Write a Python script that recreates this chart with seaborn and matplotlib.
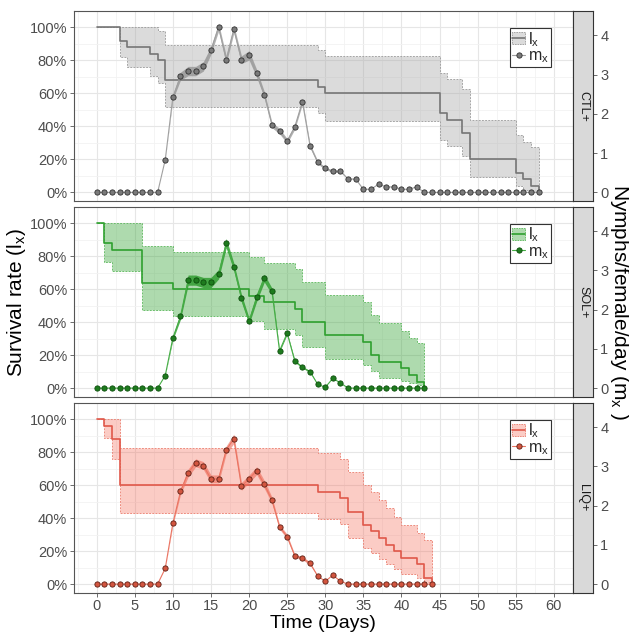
import matplotlib
matplotlib.use("Agg")
import matplotlib.pyplot as plt
import seaborn as sns
import pandas as pd
from matplotlib.patches import Patch
from matplotlib.lines import Line2D
from matplotlib.colors import to_rgba
from matplotlib.ticker import MultipleLocator, PercentFormatter

# ---------------- data ----------------
# survival (l_x) step functions: day of change, value, CI upper, CI lower
lx_days_ctl = [0, 3, 4, 7, 8, 9, 29, 30, 45, 46, 48, 49, 55, 56, 57, 58]
lx_ctl = [1.00, 0.92, 0.88, 0.84, 0.80, 0.68, 0.64, 0.60, 0.48, 0.44, 0.36, 0.20, 0.12, 0.08, 0.04, 0.00]
lx_up_ctl = [1.00, 1.00, 1.00, 1.00, 0.976, 0.895, 0.864, 0.828, 0.722, 0.690, 0.625, 0.442, 0.351, 0.304, 0.276, 0.276]
lx_lo_ctl = [1.00, 0.824, 0.763, 0.706, 0.665, 0.519, 0.479, 0.436, 0.320, 0.284, 0.219, 0.091, 0.040, 0.012, 0.000, 0.000]

lx_days_sol = [0, 1, 2, 6, 10, 20, 22, 26, 27, 30, 35, 36, 37, 40, 41, 42, 43]
lx_sol = [1.00, 0.88, 0.84, 0.64, 0.60, 0.56, 0.52, 0.48, 0.40, 0.32, 0.28, 0.20, 0.16, 0.12, 0.08, 0.04, 0.00]
lx_up_sol = [1.00, 1.00, 1.00, 0.859, 0.823, 0.792, 0.758, 0.722, 0.643, 0.567, 0.522, 0.442, 0.395, 0.349, 0.304, 0.274, 0.274]
lx_lo_sol = [1.00, 0.762, 0.708, 0.476, 0.435, 0.405, 0.361, 0.320, 0.250, 0.179, 0.143, 0.103, 0.063, 0.046, 0.032, 0.020, 0.000]

lx_days_liq = [0, 1, 2, 3, 29, 32, 33, 35, 36, 37, 38, 39, 40, 42, 43, 44]
lx_liq = [1.00, 0.96, 0.88, 0.60, 0.56, 0.52, 0.44, 0.36, 0.32, 0.28, 0.24, 0.20, 0.16, 0.12, 0.04, 0.00]
lx_up_liq = [1.00, 1.00, 1.00, 0.826, 0.795, 0.760, 0.680, 0.600, 0.560, 0.510, 0.460, 0.410, 0.360, 0.310, 0.270, 0.270]
lx_lo_liq = [1.00, 0.888, 0.760, 0.432, 0.396, 0.365, 0.280, 0.220, 0.190, 0.155, 0.120, 0.090, 0.060, 0.040, 0.010, 0.000]

# fecundity (m_x): daily values and ribbon half-width
mx_days_ctl = list(range(0, 59))
mx_ctl = [0, 0, 0, 0, 0, 0, 0, 0, 0, 0.83, 2.43, 2.96, 3.09, 3.09, 3.21, 3.62, 4.21, 3.38, 4.16, 3.38,
          3.49, 3.03, 2.49, 1.72, 1.56, 1.31, 1.67, 2.31, 1.19, 0.77, 0.61, 0.54, 0.54, 0.34, 0.34, 0.08,
          0.08, 0.21, 0.14, 0.14, 0.08, 0.08, 0.14, 0, 0, 0, 0, 0, 0, 0, 0, 0, 0, 0, 0, 0, 0, 0, 0]
mx_se_ctl = [0, 0, 0, 0, 0, 0, 0, 0, 0, 0, 0.06, 0.10, 0.12, 0.12, 0.12, 0.10, 0.10, 0.10, 0.10, 0.10,
             0.12, 0.10, 0.08, 0.07, 0.07, 0.06, 0.06, 0.06, 0.05, 0.04, 0.03, 0.03, 0.03, 0, 0, 0,
             0, 0, 0, 0, 0, 0, 0, 0, 0, 0, 0, 0, 0, 0, 0, 0, 0, 0, 0, 0, 0, 0, 0]

mx_days_sol = list(range(0, 44))
mx_sol = [0, 0, 0, 0, 0, 0, 0, 0, 0, 0.32, 1.28, 1.83, 2.75, 2.75, 2.69, 2.69, 2.90, 3.69, 3.09, 2.29,
          1.71, 2.31, 2.80, 2.47, 0.95, 1.40, 0.69, 0.53, 0.42, 0.10, 0.02, 0.25, 0.13, 0, 0, 0, 0, 0,
          0, 0, 0, 0, 0, 0]
mx_se_sol = [0, 0, 0, 0, 0, 0, 0, 0, 0, 0, 0.05, 0.08, 0.13, 0.13, 0.13, 0.13, 0.12, 0.12, 0.10, 0.10,
             0.08, 0.10, 0.10, 0.08, 0.03, 0.03, 0.03, 0.02, 0.02, 0, 0, 0, 0, 0, 0, 0, 0, 0,
             0, 0, 0, 0, 0, 0]

mx_days_liq = list(range(0, 45))
mx_liq = [0, 0, 0, 0, 0, 0, 0, 0, 0, 0.40, 1.55, 2.36, 2.83, 3.09, 3.02, 2.68, 2.68, 3.42, 3.70, 2.49,
          2.68, 2.89, 2.54, 2.14, 1.46, 1.21, 0.72, 0.66, 0.53, 0.21, 0.07, 0.23, 0.07, 0, 0, 0, 0, 0,
          0, 0, 0, 0, 0, 0, 0]
mx_se_liq = [0, 0, 0, 0, 0, 0, 0, 0, 0, 0, 0.05, 0.08, 0.10, 0.10, 0.10, 0.10, 0.10, 0.10, 0.12, 0.10,
             0.10, 0.10, 0.10, 0.08, 0.06, 0.06, 0.04, 0.04, 0.04, 0, 0, 0, 0, 0, 0, 0, 0, 0,
             0, 0, 0, 0, 0, 0, 0]

treatments = ["CTL+", "SOL+", "LIQ+"]
x_ticks = [0, 5, 10, 15, 20, 25, 30, 35, 40, 45, 50, 55, 60]
y_ticks = [0, 0.2, 0.4, 0.6, 0.8, 1.0]
mx_ticks = [0, 1, 2, 3, 4]

# ---------------- style ----------------
sns.set_theme(style="white")
plt.rcParams["font.family"] = ["Liberation Sans", "DejaVu Sans"]
plt.rcParams["mathtext.default"] = "regular"

styles = {
    "CTL+": dict(line="#767676", fill=to_rgba("#A6A6A6", 0.40), dash="#9A9A9A",
                 mline="#A0A0A0", mface="#7A7A7A", medge="#303030", rib=to_rgba("#7F7F7F", 0.6)),
    "SOL+": dict(line="#2FA02F", fill=to_rgba("#2CA02C", 0.38), dash="#5CB85C",
                 mline="#45AD45", mface="#1E7B1E", medge="#0B4D0B", rib=to_rgba("#2A9A2A", 0.8)),
    "LIQ+": dict(line="#E0584A", fill=to_rgba("#F56450", 0.33), dash="#EB7D6E",
                 mline="#EA7462", mface="#D2553F", medge="#5C1F14", rib=to_rgba("#EE6A58", 0.6)),
}

data = {
    "CTL+": (lx_days_ctl, lx_ctl, lx_up_ctl, lx_lo_ctl, mx_days_ctl, mx_ctl, mx_se_ctl),
    "SOL+": (lx_days_sol, lx_sol, lx_up_sol, lx_lo_sol, mx_days_sol, mx_sol, mx_se_sol),
    "LIQ+": (lx_days_liq, lx_liq, lx_up_liq, lx_lo_liq, mx_days_liq, mx_liq, mx_se_liq),
}

W, H = 629, 632
fig = plt.figure(figsize=(W / 100, H / 100), dpi=100)
fig.patch.set_facecolor("white")

tops = [11, 206.7, 402.7]
ph = 190.0
left, right = 74.0, 572.7
strip_w = 20.5
K = 4.2
ylim = (-0.052, 1.10)
xlim = (-2.975, 62.475)
border = "#555555"
tickc = "#4D4D4D"

for i, trt in enumerate(treatments):
    st = styles[trt]
    ld, lv, lu, ll, md, mv, mse = data[trt]
    bottom = 1 - (tops[i] + ph) / H
    ax = fig.add_axes([left / W, bottom, (right - left) / W, ph / H])
    ax.set_xlim(*xlim)
    ax.set_ylim(*ylim)
    ax.set_xticks(x_ticks)
    ax.xaxis.set_minor_locator(MultipleLocator(2.5))
    ax.set_yticks(y_ticks)
    ax.yaxis.set_minor_locator(MultipleLocator(0.1))
    ax.yaxis.set_major_formatter(PercentFormatter(xmax=1, decimals=0))
    ax.grid(which="major", color="#E6E6E6", lw=0.8)
    ax.grid(which="minor", color="#F2F2F2", lw=0.6)
    ax.set_axisbelow(True)
    for s in ax.spines.values():
        s.set_color(border)
        s.set_linewidth(0.8)
    ax.tick_params(axis="y", which="major", left=True, length=3, width=0.6, color=border,
                   labelsize=10.5, labelcolor=tickc, pad=2)
    ax.tick_params(which="minor", length=0)
    if i == 2:
        ax.tick_params(axis="x", which="major", bottom=True, length=3, width=0.6, color=border,
                       labelsize=10.5, labelcolor=tickc, pad=1.5)
    else:
        ax.tick_params(axis="x", which="major", bottom=False, labelbottom=False)

    # survival band and step line
    ax.fill_between(ld, ll, lu, step="post", facecolor=st["fill"], edgecolor=st["dash"],
                    linestyle=(0, (2.2, 1.6)), linewidth=0.6, zorder=2)
    df_lx = pd.DataFrame({"day": ld, "lx": lv})
    sns.lineplot(data=df_lx, x="day", y="lx", ax=ax, color=st["line"], lw=1.2,
                 drawstyle="steps-post", estimator=None, zorder=3)
    ax.set_xlabel("")
    ax.set_ylabel("")

    # fecundity on secondary axis
    ax2 = ax.twinx()
    ax2.set_ylim(ylim[0] * K, ylim[1] * K)
    ax2.set_yticks(mx_ticks)
    for s in ax2.spines.values():
        s.set_visible(False)
    ax2.spines["right"].set_position(("outward", strip_w * 72 / 100))
    ax2.tick_params(axis="y", right=True, length=3, width=0.6, color=border,
                    labelsize=10.5, labelcolor=tickc, pad=2)
    lo = [m - s for m, s in zip(mv, mse)]
    hi = [m + s for m, s in zip(mv, mse)]
    ax2.fill_between(md, lo, hi, color=st["rib"], lw=0, zorder=2)
    df_mx = pd.DataFrame({"day": md, "mx": mv})
    sns.lineplot(data=df_mx, x="day", y="mx", ax=ax2, color=st["mline"], lw=0.8,
                 marker="o", markersize=3.8, markerfacecolor=st["mface"],
                 markeredgecolor=st["medge"], markeredgewidth=0.6, estimator=None, zorder=3)
    ax2.set_xlabel("")
    ax2.set_ylabel("")
    ax2.set_xlim(*xlim)

    # legend
    h_lx = (Patch(facecolor=st["fill"], edgecolor=st["dash"], linestyle=(0, (2, 1)), lw=0.6),
            Line2D([], [], color=st["line"], lw=1.2))
    h_mx = Line2D([], [], color=st["mline"], lw=0.8, marker="o", markersize=3.8,
                  markerfacecolor=st["mface"], markeredgecolor=st["medge"], markeredgewidth=0.6)
    leg = ax2.legend([h_lx, h_mx], ["l$_\\mathregular{x}$", "m$_\\mathregular{x}$"],
                     loc="upper right", bbox_to_anchor=((551 - left) / (right - left), (ph - 17) / ph),
                     fontsize=11.5, frameon=True, fancybox=False, framealpha=1,
                     edgecolor="#333333", handlelength=0.8, handleheight=0.8, handletextpad=0.2,
                     labelspacing=0.0, borderpad=0.12, borderaxespad=0)
    leg.get_frame().set_linewidth(0.8)

    # strip
    sax = fig.add_axes([right / W, bottom, strip_w / W, ph / H])
    sax.set_facecolor("#D9D9D9")
    sax.set_xticks([])
    sax.set_yticks([])
    for s in sax.spines.values():
        s.set_color("#333333")
        s.set_linewidth(0.8)
    sax.text(0.5, 0.5, trt, rotation=-90, ha="center", va="center", transform=sax.transAxes,
             fontsize=9, color="#1A1A1A")

fig.text(0.5 * (left + right) / W, 1 - 623 / H, "Time (Days)", ha="center", va="center",
         fontsize=14, color="black")
fig.text(17 / W, 1 - 302 / H, "Survival rate (l$_\\mathregular{x}$)", rotation=90,
         ha="center", va="center", fontsize=15, color="black")
fig.text(619 / W, 1 - 302 / H, "Nymphs/female/day (m$_\\mathregular{x}$ )", rotation=-90,
         ha="center", va="center", fontsize=15, color="black")

fig.savefig("out.png", dpi=100, facecolor="white")
